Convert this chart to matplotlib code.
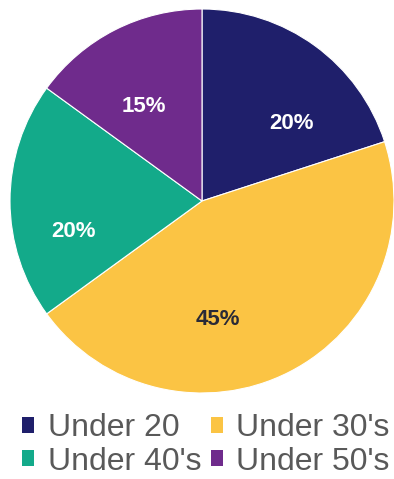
import numpy as np
import matplotlib
matplotlib.use('Agg')
from matplotlib import pyplot as plt
from matplotlib.patches import Patch

# age groups and their shares (percent)
groups = ['Under 20', "Under 30's", "Under 40's", "Under 50's"]
shares = [20, 45, 20, 15]
colors = ['#1f1f6b', '#fbc444', '#13aa8a', '#6f2b8c']
label_colors = ['white', '#2a2a36', 'white', 'white']

plt.rcParams['font.family'] = ['Liberation Sans', 'DejaVu Sans']

fig = plt.figure(figsize=(3.94, 4.79), dpi=100)
ax = fig.add_axes([10/394, 86/479, 384/394, 384/479])

wedges, texts, autotexts = ax.pie(shares, colors=colors, startangle=90,
                                  counterclock=False, radius=1.0,
                                  autopct='%d%%', pctdistance=0.62,
                                  wedgeprops=dict(edgecolor='white', linewidth=0.8))

# nudge labels a bit, like the office-style layout
offsets = [(0.1, -0.1), (-0.2, -0.065), (-0.05, -0.16), (-0.02, -0.06)]
for t, c, (dx, dy) in zip(autotexts, label_colors, offsets):
    x, y = t.get_position()
    t.set_position((x + dx, y + dy))
    t.set_color(c)
    t.set_fontsize(16)
    t.set_fontweight('bold')

ax.set_xlim(-1, 1)
ax.set_ylim(-1, 1)
ax.set_aspect('equal')
ax.axis('off')

# legend, filled row by row
order = [0, 2, 1, 3]
handles = [Patch(facecolor=colors[i], edgecolor='none') for i in order]
fig.legend(handles, [groups[i] for i in order], ncol=2,
           loc='lower center', bbox_to_anchor=(0.523, -0.035),
           frameon=False, fontsize=23, labelcolor='#595959',
           handlelength=0.37, handleheight=0.37, handletextpad=0.42,
           columnspacing=0.32, labelspacing=0.1, borderpad=0.1)

fig.savefig('out.png', dpi=100, facecolor='white')
